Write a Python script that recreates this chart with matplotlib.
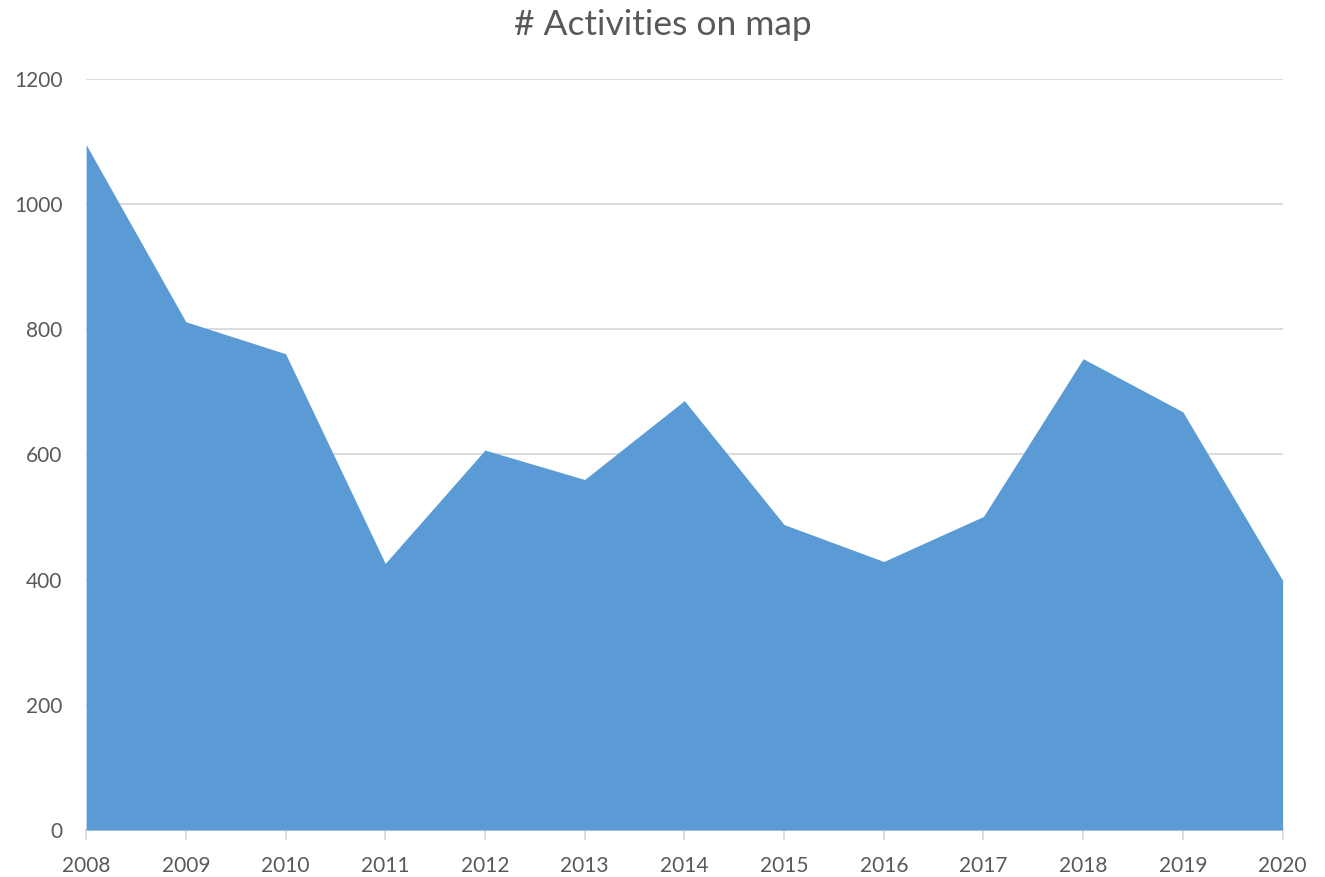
import matplotlib
matplotlib.use("Agg")
import matplotlib.pyplot as plt

years = [2008, 2009, 2010, 2011, 2012, 2013, 2014, 2015, 2016, 2017, 2018, 2019, 2020]
activities = [1095, 812, 761, 426, 607, 560, 686, 488, 429, 501, 753, 668, 399]

plt.rcParams["font.family"] = ["Lato", "DejaVu Sans"]
text_color = "#595959"
grid_color = "#d9d9d9"

fig = plt.figure(figsize=(13.25, 8.77), dpi=100)
ax = fig.add_axes([0.065, 0.0536, 0.903, 0.8564])

ax.fill_between(years, activities, 0, color="#5b9bd5", linewidth=0, zorder=3)

ax.set_xlim(years[0], years[-1])
ax.set_ylim(0, 1200)
ax.set_xticks(years)
ax.set_yticks(range(0, 1201, 200))

ax.grid(axis="y", color=grid_color, linewidth=1.3, zorder=0)
for side in ["top", "right", "left"]:
    ax.spines[side].set_visible(False)
ax.spines["bottom"].set_color(grid_color)
ax.spines["bottom"].set_linewidth(1.3)
ax.spines["bottom"].set_zorder(2)

ax.tick_params(axis="x", colors=grid_color, length=7, width=1.3, labelcolor=text_color,
               labelsize=15, pad=12)
ax.tick_params(axis="y", length=0, labelcolor=text_color, labelsize=15, pad=17)

fig.suptitle("# Activities on map", y=0.99, fontsize=25.5, color=text_color)

fig.savefig("out.png", dpi=100)
